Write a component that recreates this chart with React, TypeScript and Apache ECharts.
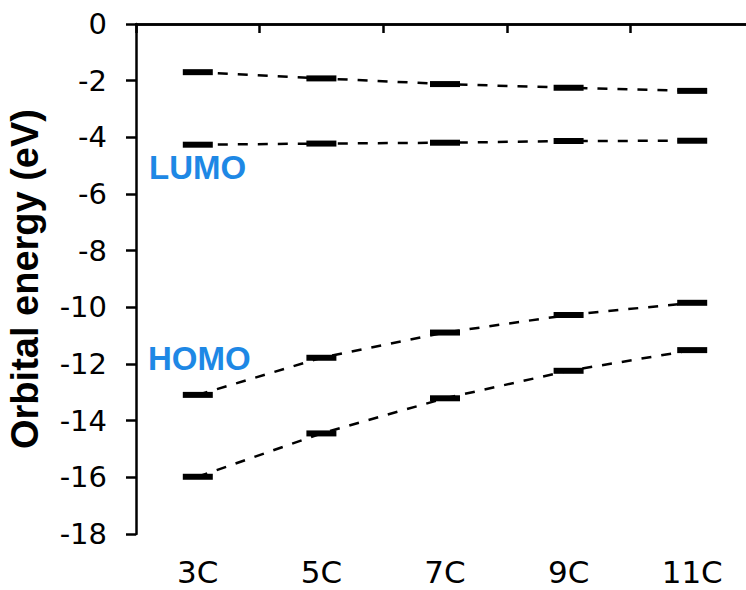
import React, { useEffect, useRef } from "react";
import * as echarts from "echarts";

const categories = ["3C", "5C", "7C", "9C", "11C"];
const lumoPlus1 = [-1.7, -1.92, -2.12, -2.25, -2.36];
const lumo = [-4.26, -4.22, -4.19, -4.13, -4.12];
const homo = [-13.09, -11.78, -10.89, -10.27, -9.84];
const homoMinus1 = [-15.98, -14.45, -13.21, -12.24, -11.51];
const levelSeries = [lumoPlus1, lumo, homo, homoMinus1];

const FONT = "'Liberation Sans', Arial, Helvetica, sans-serif";
const TICK_FONT = "'DejaVu Sans', 'Liberation Sans', sans-serif";

export default function App() {
  const ref = useRef<HTMLDivElement>(null);
  useEffect(() => {
    if (!ref.current) return;
    const chart = echarts.init(ref.current, undefined, { renderer: "svg" });
    const axisLine = { show: true, lineStyle: { color: "#000", width: 2.5 } };
    chart.setOption({
      animation: false,
      backgroundColor: "#fff",
      grid: {
        left: 136,
        top: 24,
        right: -8,
        bottom: 56,
        containLabel: false,
        outerBoundsMode: "none",
      },
      xAxis: [
        {
          type: "category",
          data: categories,
          position: "bottom",
          boundaryGap: true,
          axisLine,
          axisTick: { show: true, length: 9, inside: false, lineStyle: { color: "#000", width: 2.5 } },
          axisLabel: { color: "#000", fontSize: 31, fontFamily: TICK_FONT, margin: 22 },
          splitLine: { show: false },
        },
        {
          type: "category",
          data: categories,
          position: "top",
          axisLine,
          axisTick: { show: false },
          axisLabel: { show: false },
          splitLine: { show: false },
        },
      ],
      yAxis: {
        type: "value",
        min: -18,
        max: 0,
        interval: 2,
        axisLine,
        axisTick: { show: true, length: 10, lineStyle: { color: "#000", width: 2.5 } },
        axisLabel: { color: "#000", fontSize: 29, fontFamily: TICK_FONT, margin: 29 },
        splitLine: { show: false },
        name: "Orbital energy (eV)",
        nameLocation: "middle",
        nameRotate: 90,
        nameGap: 92,
        nameMoveOverlap: false,
        nameTextStyle: { color: "#000", fontSize: 38, fontWeight: "bold", fontFamily: FONT },
      },
      series: levelSeries.map((d) => ({
        type: "line",
        data: d,
        xAxisIndex: 0,
        symbol: "rect",
        symbolSize: [30, 6],
        itemStyle: { color: "#000" },
        lineStyle: { color: "#000", width: 2.5, type: [10, 10] },
        z: 3,
      })),
      graphic: [
        {
          type: "text",
          left: 149,
          top: 151,
          style: { text: "LUMO", fill: "#1e88e5", font: `bold 33px ${FONT}` },
        },
        {
          type: "text",
          left: 148,
          top: 342,
          style: { text: "HOMO", fill: "#1e88e5", font: `bold 33px ${FONT}` },
        },
      ],
    });
    return () => chart.dispose();
  }, []);
  return (
    <div
      ref={ref}
      style={{ position: "fixed", left: 0, top: 0, width: 746, height: 590, background: "#fff" }}
    />
  );
}
